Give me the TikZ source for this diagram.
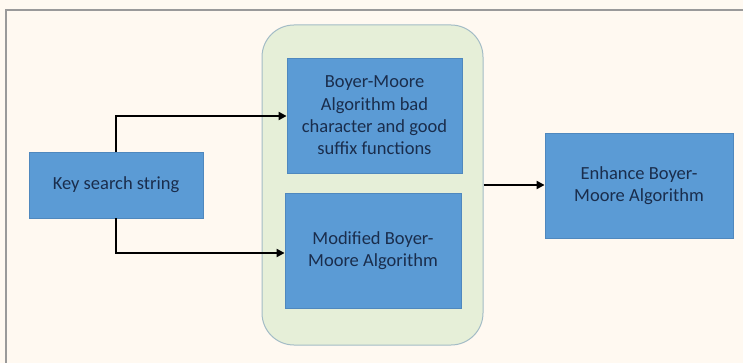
\documentclass[tikz,border=0pt]{standalone}
\usepackage{fontspec}
\setmainfont{Carlito}
\usetikzlibrary{arrows.meta}
\definecolor{bg}{HTML}{FFF9F1}
\definecolor{boxblue}{HTML}{5B9BD5}
\definecolor{boxedge}{HTML}{4F88BE}
\definecolor{txt}{HTML}{1A2D4C}
\definecolor{grpfill}{HTML}{E6EFD8}
\definecolor{grpedge}{HTML}{A3BCC6}
\definecolor{frame}{HTML}{9A9A9A}
\tikzset{
  bluebox/.style={draw=boxedge, line width=0.8pt, fill=boxblue, text=txt, align=center,
    font=\fontsize{18.5}{22.3}\selectfont, inner sep=0pt},
  conn/.style={draw=black, line width=2.8pt, -{Triangle[length=8pt,width=8pt]}},
}
\begin{document}
\begin{tikzpicture}[x=1pt,y=-1pt]
\useasboundingbox (0,0) rectangle (743,363);
\fill[bg] (0,0) rectangle (743,363);
\draw[frame, line width=1.2pt] (6,370) -- (6,10) -- (750,10);
\node[draw=grpedge, line width=1pt, fill=grpfill, rounded corners=32pt, minimum width=221pt, minimum height=320pt, inner sep=0pt] (grp) at (372.5,185) {};
\node[bluebox, minimum width=174pt, minimum height=66pt] (key) at (116,185) {Key search string};
\node[bluebox, minimum width=175pt, minimum height=115pt] (bm) at (374.5,115.5) {Boyer-Moore\\Algorithm bad\\character and good\\suffix functions};
\node[bluebox, minimum width=176pt, minimum height=115pt] (mod) at (373,250.5) {Modified Boyer-\\Moore Algorithm};
\node[bluebox, minimum width=188pt, minimum height=105pt] (enh) at (639,185.5) {Enhance Boyer-\\Moore Algorithm};
\coordinate (ka) at (116,152);
\coordinate (kb) at (116,218);
\draw[conn] (ka) |- (bm.west |- 0,116);
\draw[conn] (kb) |- (mod.west |- 0,253);
\draw[conn] (grp.east |- 0,185) -- (enh.west |- 0,185);
\end{tikzpicture}
\end{document}
